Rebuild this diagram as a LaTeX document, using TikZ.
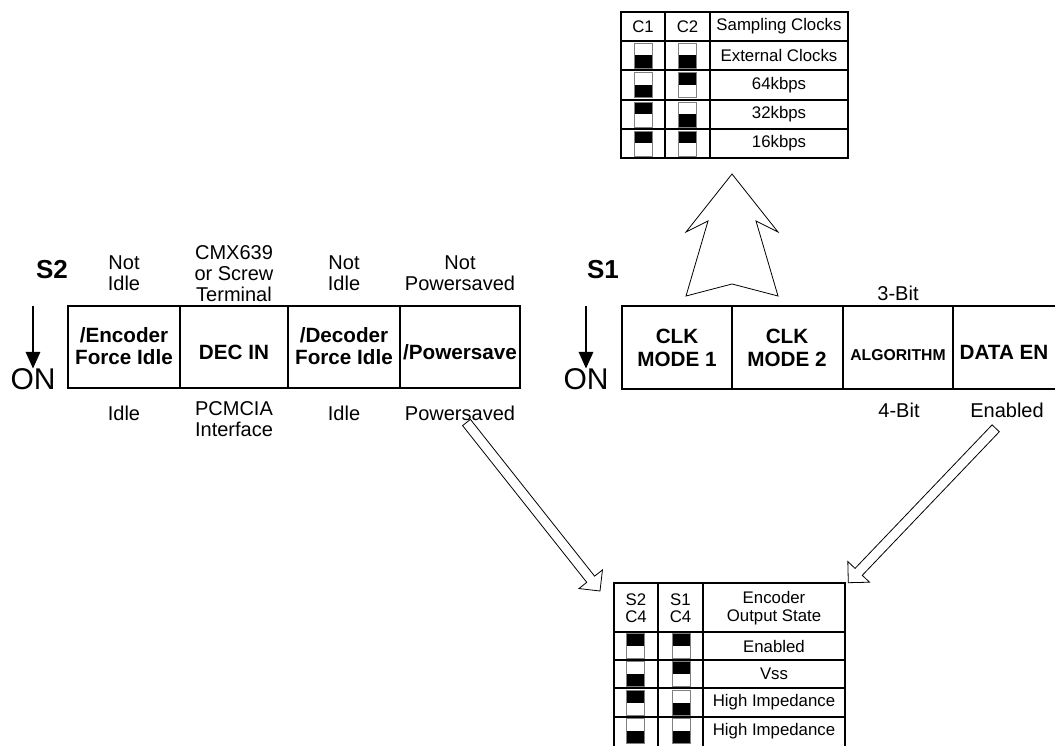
\documentclass[tikz,border=0pt]{standalone}
\usepackage{fontspec}
\setmainfont{Liberation Sans}
\usetikzlibrary{calc,arrows.meta}

% hollow block arrow from #1 to #2
\newcommand\hollowarrow[2]{%
	\coordinate (ha base) at ($(#2)!11.25pt!(#1)$);
	\draw[blockarrow] ($(#1)!3.75pt!90:(#2)$) -- ($(ha base)!3.75pt!-90:(#1)$)
		-- ($(ha base)!11.25pt!-90:(#1)$) -- (#2) -- ($(ha base)!11.25pt!90:(#1)$)
		-- ($(ha base)!3.75pt!90:(#1)$) -- ($(#1)!3.75pt!-90:(#2)$) -- cycle;}

\begin{document}
\begin{tikzpicture}[x=0.75pt,y=-0.75pt,
	every node/.style={inner sep=0,align=center},
	lbl/.style={font=\fontsize{15}{15.75}\selectfont},
	key/.style={font=\bfseries\fontsize{15.5}{17}\selectfont},
	tbl/.style={font=\fontsize{12.6}{13}\selectfont},
	swname/.style={font=\bfseries\fontsize{19.5}{20}\selectfont},
	big/.style={font=\fontsize{22.5}{23}\selectfont},
	boxline/.style={line width=.8pt},
	tblline/.style={line width=1.1pt},
	onarrow/.style={-{Triangle[length=12.5pt,width=11pt]},line width=.8pt},
	blockarrow/.style={fill=white,line width=.6pt,line join=miter},
	pics/dipsw/.style={code={
		\fill (-9,{-12.5*#1}) rectangle (9,{12.5-12.5*#1});
		\draw[gray,line width=.5pt] (-9,-12.5) rectangle (9,12.5);}}]
\useasboundingbox (0,0) rectangle (1055,745);

% S2
\node[swname] (s2) at (52,270) {S2};
\node[big,anchor=north] (on2) at (33,368.5) {ON};
\coordinate (s2top) at (33,306);
\draw[onarrow] (s2top) -- (on2.north);
\draw[boxline] (68,306) rectangle (520,388);
\foreach \x in {180,288,400} \draw[boxline] (\x,306) -- (\x,388);
\node[key] (encfi) at (124,346) {/Encoder\\Force Idle};
\node[key] (decin) at (234,352) {DEC IN};
\node[key] (decfi) at (344,346) {/Decoder\\Force Idle};
\node[key] (pwrsv) at (460,352) {/Powersave};
\node[lbl] (encoff) at (124,273.5) {Not\\Idle};
\node[lbl] (decinoff) at (234,273.5) {CMX639\\or Screw\\Terminal};
\node[lbl] (decfioff) at (344,273.5) {Not\\Idle};
\node[lbl] (pwrsvoff) at (460,273.5) {Not\\Powersaved};
\node[lbl] (encon) at (124,413.5) {Idle};
\node[lbl] (decinon) at (234,419) {PCMCIA\\Interface};
\node[lbl] (decfion) at (344,413.5) {Idle};
\node[lbl] (pwrsvon) at (460,413.5) {Powersaved};

% S1
\node[swname] (s1) at (603,270) {S1};
\node[big,anchor=north] (on1) at (586,368.5) {ON};
\coordinate (s1top) at (586,306);
\draw[onarrow] (s1top) -- (on1.north);
\draw[boxline] (1062,306) -- (622,306) -- (622,389) -- (1062,389);
\foreach \x in {732,843,953} \draw[boxline] (\x,306) -- (\x,389);
\node[key] (clk1) at (677,348) {CLK\\MODE 1};
\node[key] (clk2) at (787,348) {CLK\\MODE 2};
\node[font=\bfseries\fontsize{11.8}{12}\selectfont] (algo) at (898,355) {ALGORITHM};
\node[key] (dataen) at (1004,352) {DATA EN};
\node[lbl] (algooff) at (898,293) {3-Bit};
\node[lbl] (algoon) at (899,410) {4-Bit};
\node[lbl] (dataenon) at (1007,410) {Enabled};

% sampling clock table
\draw[tblline] (621,12) rectangle (848,158);
\foreach \y in {41,70,100,129} \draw[tblline] (621,\y) -- (848,\y);
\foreach \x in {665,710} \draw[tblline] (\x,12) -- (\x,158);
\node[tbl] (c1) at (643,26.5) {C1};
\node[tbl] (c2) at (687.5,26.5) {C2};
\node[tbl] (clkhead) at (779,26.5) {Sampling Clocks};
\foreach \y/\a/\b/\rate [count=\i] in {55.5/0/0/External Clocks,85/0/1/64kbps,
		114.5/1/0/32kbps,143.5/1/1/16kbps}{
	\pic at (643,\y) {dipsw=\a};
	\pic at (687.5,\y) {dipsw=\b};
	\node[tbl] (rate\i) at (779,\y) {\rate};}

% encoder output table
\draw[tblline] (614,750) -- (614,583) -- (845,583) -- (845,750);
\foreach \y in {632,660,688,717} \draw[tblline] (614,\y) -- (845,\y);
\foreach \x in {658,703} \draw[tblline] (\x,583) -- (\x,750);
\node[tbl] (s2c4) at (636,608) {S2\\C4};
\node[tbl] (s1c4) at (680.5,608) {S1\\C4};
\node[tbl] (outhead) at (774,608) {Encoder\\Output State};
\foreach \y/\a/\b/\state [count=\i] in {646/1/1/Enabled,674/0/1/Vss,
		702.5/1/0/High Impedance,731/0/0/High Impedance}{
	\pic at (635,\y) {dipsw=\a};
	\pic at (681,\y) {dipsw=\b};
	\node[tbl] (state\i) at (774,\y) {\state};}

% block arrows
\draw[blockarrow] (732,174) -- (778,232) -- (756,221) -- (778,296) -- (732,284)
	-- (686,296) -- (708,221) -- (686,232) -- cycle;
\coordinate (pstail) at (466.5,422.5);
\coordinate (pstip) at (600,591);
\hollowarrow{pstail}{pstip}
\coordinate (entail) at (995.7,428.3);
\coordinate (entip) at (848.3,582.7);
\hollowarrow{entail}{entip}
\end{tikzpicture}
\end{document}
